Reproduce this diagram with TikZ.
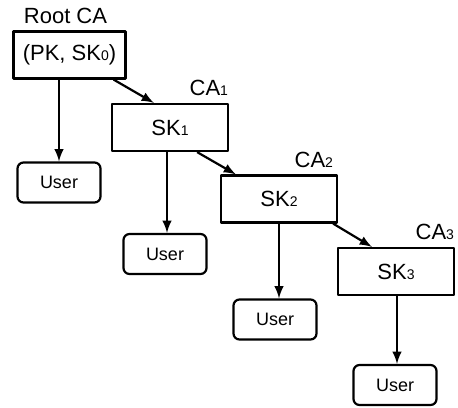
\documentclass[tikz,border=0pt]{standalone}
\usepackage{fontspec}
\setmainfont{Liberation Sans}
\newcommand\dig[1]{{\fontsize{7}{8}\selectfont#1}}
\begin{document}
\begin{tikzpicture}[x=0.5pt,y=-0.5pt,line width=1.1pt,line join=round,>=latex,
  cabox/.style={draw,minimum width=58pt,minimum height=23.5pt,inner sep=0pt,font=\fontsize{11}{13}\selectfont},
  userbox/.style={draw,rounded corners=3pt,minimum width=41.5pt,minimum height=20pt,inner sep=0pt,font=\fontsize{9}{10}\selectfont},
  tag/.style={inner sep=0pt,font=\fontsize{11}{13}\selectfont}]
\useasboundingbox (0,0) rectangle (458,407);
\node[cabox,minimum width=56pt] (root) at (69.5,55) {(PK, SK\dig{0})};
\node[cabox] (ca1) at (170,127.5) {SK\dig{1}};
\node[cabox] (ca2) at (279,199) {SK\dig{2}};
\node[cabox] (ca3) at (396,271.5) {SK\dig{3}};
\node[userbox] (u0) at (59,182.5) {User};
\node[userbox] (u1) at (165,254) {User};
\node[userbox] (u2) at (275,319.5) {User};
\node[userbox] (u3) at (395,385) {User};
\node[tag,anchor=south] (rootname) at ([xshift=-2pt,yshift=3pt]root.north) {Root CA};
\node[tag,anchor=south east] (ca1name) at ([yshift=3pt]ca1.north east) {CA\dig{1}};
\node[tag,anchor=south east] (ca2name) at ([xshift=-2pt,yshift=3pt]ca2.north east) {CA\dig{2}};
\node[tag,anchor=south east] (ca3name) at ([yshift=3pt]ca3.north east) {CA\dig{3}};
\draw[->] ([xshift=-6.5pt]root.south east) -- ([xshift=21.5pt]ca1.north west);
\draw[->] ([xshift=-16pt]ca1.south east) -- ([xshift=8pt]ca2.north west);
\draw[->] ([xshift=-2.5pt]ca2.south east) -- ([xshift=17.5pt]ca3.north west);
\draw[->] (u0 |- root.south) -- (u0);
\draw[->] ([xshift=1pt]u1 |- ca1.south) -- ([xshift=1pt]u1.north);
\draw[->] ([xshift=2pt]u2 |- ca2.south) -- ([xshift=2pt]u2.north);
\draw[->] ([xshift=1pt]u3 |- ca3.south) -- ([xshift=1pt]u3.north);
\end{tikzpicture}
\end{document}
